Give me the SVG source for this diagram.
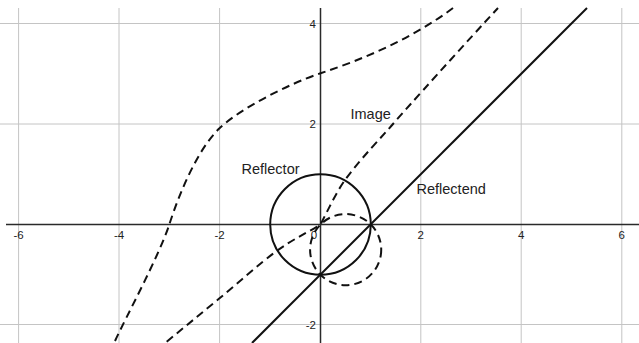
<svg xmlns="http://www.w3.org/2000/svg" width="639" height="343" viewBox="0 0 639 343">
<defs>
<style>
.grid{stroke:#c4c4c4;stroke-width:1;fill:none}
.axis{stroke:#2a2a2a;stroke-width:1.5;fill:none}
.tick{font-family:"Liberation Sans",Arial,sans-serif;font-size:11.5px;fill:#222}
.lbl{font-family:"Liberation Sans",Arial,sans-serif;font-size:14.5px;fill:#222}
.solid{stroke:#111;stroke-width:2;fill:none}
.dash{stroke:#111;stroke-width:2;fill:none;stroke-dasharray:8 5}
</style>
</defs>
<rect width="639" height="343" fill="#ffffff"/>
<g id="grid">
<path class="grid" d="M18.6 8V343M119 8V343M219.6 8V343M420.8 8V343M521.2 8V343M621.8 8V343M0 23.5H639M0 124H639M0 324.5H639"/>
</g>
<g id="axes">
<path class="axis" d="M6 224.5H639M320.5 8V343"/>
<g id="ticks">
<text class="tick" x="18.6" y="239" text-anchor="middle">-6</text>
<text class="tick" x="119" y="239" text-anchor="middle">-4</text>
<text class="tick" x="219.6" y="239" text-anchor="middle">-2</text>
<text class="tick" x="314" y="239" text-anchor="middle">0</text>
<text class="tick" x="420.8" y="239" text-anchor="middle">2</text>
<text class="tick" x="521.2" y="239" text-anchor="middle">4</text>
<text class="tick" x="621.8" y="239" text-anchor="middle">6</text>
<text class="tick" x="316" y="27.5" text-anchor="end">4</text>
<text class="tick" x="316" y="128" text-anchor="end">2</text>
<text class="tick" x="316" y="328.5" text-anchor="end">-2</text>
</g>
</g>
<g id="curve-outer">
<path class="dash" d="M115 341C125 319 159.3 255.5 169.3 224.5C179.3 193.5 197.5 149.3 219.5 128.3C239.5 109.1 287.5 84.3 320.5 73.3C364.5 58.8 413 38 453 8"/>
</g>
<g id="image">
<path class="dash" d="M166.7 341.7C184.3 327.2 201.3 313.3 219.5 298.3C237.7 283.3 258.9 264 275.7 251.7C292.5 239.4 305.6 233.6 320.5 224.5C328 210 337 191 345 180C361 158 383 135.7 393 124C403 112.3 470 38 498 8"/>
<circle class="dash" cx="345.65" cy="249.65" r="35.57"/>
<text class="lbl" x="350.5" y="119">Image</text>
</g>
<g id="reflector">
<circle class="solid" cx="320.5" cy="224.5" r="50.3"/>
<text class="lbl" x="241.5" y="174">Reflector</text>
</g>
<g id="reflectend">
<path class="solid" d="M252 343L587 8"/>
<text class="lbl" x="416.5" y="193.5">Reflectend</text>
</g>
</svg>
